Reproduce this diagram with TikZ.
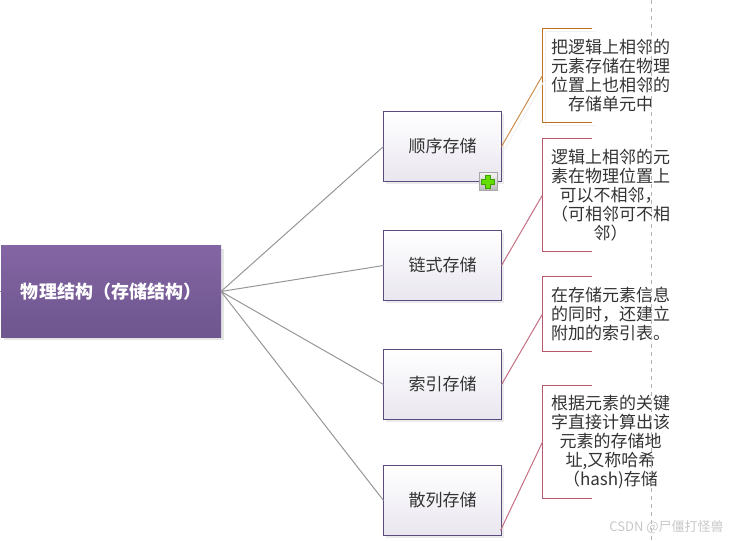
\documentclass[tikz,border=0pt]{standalone}
\usepackage{fontspec}
\usepackage{xcolor}
\newfontfamily\cjk{Noto Sans CJK SC}
\usetikzlibrary{shadows, positioning, calc}
\definecolor{rootTop}{HTML}{8365A3}
\definecolor{rootBottom}{HTML}{6E568E}
\definecolor{boxEdge}{HTML}{5B4A7E}
\definecolor{boxBottom}{HTML}{E9E6EF}
\definecolor{noteOrange}{HTML}{C0701F}
\definecolor{noteRed}{HTML}{B8566B}
\definecolor{linkGray}{HTML}{969696}
\definecolor{inkGray}{HTML}{333333}
\definecolor{plusGreen}{HTML}{66DD00}
\definecolor{plusEdge}{HTML}{3FA000}

\begin{document}
\begin{tikzpicture}[
x=0.75pt, y=-0.75pt,
root_node/.style={rectangle, top color=rootTop, bottom color=rootBottom, draw=none, outer sep=0pt, inner sep=0pt, minimum width=165pt, minimum height=68.25pt, text=white, font=\cjk\bfseries\fontsize{13.5}{16}\selectfont, drop shadow={shadow xshift=2pt, shadow yshift=-2pt, fill=black!10, opacity=1}},
store_node/.style={rectangle, draw=boxEdge, line width=0.75pt, top color=white, bottom color=boxBottom, outer sep=0pt, inner sep=0pt, minimum width=88.5pt, minimum height=52.5pt, text=inkGray, font=\cjk\fontsize{12.75}{15}\selectfont, drop shadow={shadow xshift=2pt, shadow yshift=-2pt, fill=black!8, opacity=1}},
note_node/.style={rectangle, outer sep=0pt, inner sep=0pt, minimum width=102pt, align=center, text=inkGray, font=\cjk\fontsize{12.75}{14.25}\selectfont},
root_link/.style={linkGray, line width=0.75pt},
note_line/.style={line width=0.75pt},
faint_line/.style={black!6, line width=0.75pt}
]
\useasboundingbox (0,0) rectangle (734,541);

% Centre node
\node[root_node] (root) at (111,291.5) {物理结构（存储结构）};

% Storage kinds
\node[store_node] (seq) at (442.5,146.5) {顺序存储};
\node[store_node] (chain) [below=36.75pt of seq] {链式存储};
\node[store_node] (index) [below=36.75pt of chain] {索引存储};
\node[store_node] (hash) [below=34.5pt of index] {散列存储};

% Notes
\node[note_node, minimum height=70.5pt] (note1) [right=30.75pt of seq, yshift=53.25pt] {把逻辑上相邻的\\元素存储在物理\\位置上也相邻的\\存储单元中};
\node[note_node, minimum height=84.75pt] (note2) [below=12pt of note1] {逻辑上相邻的元\\素在物理位置上\\可以不相邻，\\（可相邻可不相\\邻）};
\node[note_node, minimum height=56.25pt] (note3) [below=18.75pt of note2] {在存储元素信息\\的同时，还建立\\附加的索引表。};
\node[note_node, minimum height=84.75pt] (note4) [below=25.5pt of note3] {根据元素的关键\\字直接计算出该\\元素的存储地\\址,又称哈希\\（hash)存储};

% Brackets
\draw[faint_line] ($(note1.north west)+(52,3)$) -- ($(note1.north west)+(3,3)$) -- ($(note1.south west)+(3,3)$) -- ($(note1.south west)+(52,3)$);
\draw[note_line, noteOrange] ($(note1.north west)+(49,0)$) -- (note1.north west) -- (note1.south west) -- ($(note1.south west)+(49,0)$);
\draw[note_line, noteRed] ($(note2.north west)+(49,0)$) -- (note2.north west) -- (note2.south west) -- ($(note2.south west)+(49,0)$);
\draw[note_line, noteRed] ($(note3.north west)+(49,0)$) -- (note3.north west) -- (note3.south west) -- ($(note3.south west)+(49,0)$);
\draw[note_line, noteRed] ($(note4.north west)+(49,0)$) -- (note4.north west) -- (note4.south west) -- ($(note4.south west)+(49,0)$);

% Edges
\coordinate (rootin) at (0,291.5);
\draw[root_link] (rootin) -- (root.west);
\draw[root_link] (root.east) -- (seq.west);
\draw[root_link] (root.east) -- (chain.west);
\draw[root_link] (root.east) -- (index.west);
\draw[root_link] (root.east) -- (hash.west);
\draw[faint_line] ($(seq.east)+(3,3)$) -- ($(note1.west)+(3,3)$);
\draw[note_line, noteOrange!80!white] (seq.east) -- (note1.west);
\draw[note_line, noteRed!85!white] (chain.east) -- (note2.west);
\draw[note_line, noteRed!85!white] (index.east) -- (note3.west);
\coordinate (hashout) at ($(hash.east)+(-1,30)$);
\draw[note_line, noteRed!85!white] (hashout) -- (note4.west);

% Expand button
\node[rectangle, draw=black!35, line width=0.75pt, top color=black!5, bottom color=black!28, outer sep=0pt, inner sep=0pt, minimum size=13.5pt] (plusbtn) at ($(seq.south east)+(-13.5,0.5)$) {};
\draw[draw=plusEdge, fill=plusGreen, line width=0.6pt] ($(plusbtn.center)+(-2.5,-6.5)$) -- ++(5,0) -- ++(0,4) -- ++(4,0) -- ++(0,5) -- ++(-4,0) -- ++(0,4) -- ++(-5,0) -- ++(0,-4) -- ++(-4,0) -- ++(0,-5) -- ++(4,0) -- cycle;

% Page break and watermark
\coordinate (dashtop) at (651.5,0);
\coordinate (dashbottom) at (651.5,541);
\draw[black!30, dashed, line width=0.75pt] (dashtop) -- (dashbottom);
\node[text=black!22, font=\cjk\fontsize{9.75}{12}\selectfont, inner sep=0pt] (mark) at (666.5,527.5) {CSDN @尸僵打怪兽};
\end{tikzpicture}
\end{document}
